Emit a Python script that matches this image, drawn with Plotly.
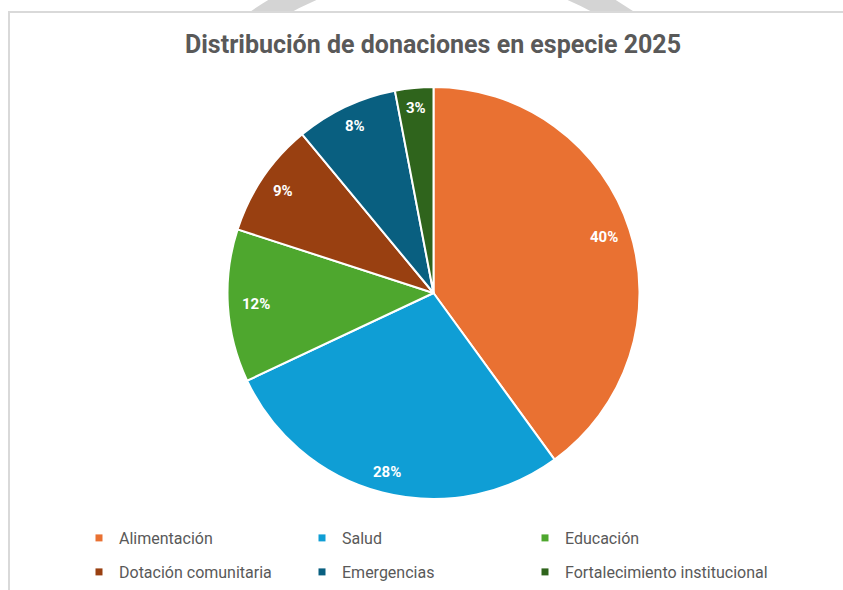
import math
import plotly.graph_objects as go

# data
categories = ['Alimentación', 'Salud', 'Educación',
              'Dotación comunitaria', 'Emergencias', 'Fortalecimiento institucional']
shares = [40, 28, 12, 9, 8, 3]
colors = ['#E97132', '#0F9ED5', '#4EA72E', '#994011', '#095F80', '#2F641C']

W, H = 843, 590


def px_x(v):
    return v / W


def px_y(v):
    return 1 - v / H


CX, CY, R = 433.5, 293, 206

fig = go.Figure()

fig.add_trace(go.Pie(
    labels=categories,
    values=shares,
    sort=False,
    direction='clockwise',
    rotation=0,
    marker=dict(colors=colors, line=dict(color='white', width=2)),
    textinfo='none',
    domain=dict(x=[px_x(CX - R), px_x(CX + R)], y=[px_y(CY + R), px_y(CY - R)]),
    showlegend=False,
    hoverinfo='label+percent',
))

# percentage labels near the outer edge of each slice
total = sum(shares)
annotations = []
cum = 0
for v in shares:
    ang = 2 * math.pi * (cum + v / 2) / total
    cum += v
    rr = R * (0.86 + 0.04 * abs(math.cos(ang)))
    annotations.append(dict(
        x=px_x(CX + rr * math.sin(ang)), y=px_y(CY - rr * math.cos(ang)),
        xref='paper', yref='paper', xanchor='center', yanchor='middle',
        showarrow=False,
        text='<b>%d%%</b>' % round(100 * v / total),
        font=dict(family='Roboto', size=15, color='white'),
    ))

# legend: one small legend per entry, laid out 3 columns x 2 rows
col_x = [79, 302, 525]
row_y = [538, 572]
legends = {}
for i, (name, col) in enumerate(zip(categories, colors)):
    key = 'legend' if i == 0 else 'legend%d' % (i + 1)
    fig.add_trace(go.Scatter(
        x=[None], y=[None], mode='markers', name=name,
        marker=dict(symbol='square', size=7, color=col),
        legend=key,
    ))
    legends[key] = dict(
        orientation='h',
        xanchor='left', yanchor='middle',
        x=px_x(col_x[i % 3]), y=px_y(row_y[i // 3]),
        font=dict(family='Roboto', size=16, color='#595959'),
        bgcolor='rgba(0,0,0,0)',
        itemclick=False,
    )

fig.update_layout(
    width=W,
    height=H,
    margin=dict(l=0, r=0, t=0, b=0),
    paper_bgcolor='white',
    plot_bgcolor='rgba(0,0,0,0)',
    xaxis=dict(visible=False),
    yaxis=dict(visible=False),
    title=dict(
        text='<b>Distribución de donaciones en especie 2025</b>',
        x=px_x(433), xanchor='center',
        y=px_y(44), yanchor='middle',
        xref='paper', yref='paper',
        font=dict(family='Roboto', size=25, color='#595959'),
    ),
    annotations=annotations,
    shapes=[
        # grey ring peeking above the chart box
        dict(type='circle', xref='paper', yref='paper', layer='below',
             x0=px_x(442 - 327), x1=px_x(442 + 327),
             y0=px_y(290 + 327), y1=px_y(290 - 327),
             line=dict(color='#d4d4d4', width=22), fillcolor='rgba(0,0,0,0)'),
        # chart box
        dict(type='rect', xref='paper', yref='paper', layer='below',
             x0=px_x(9), x1=px_x(W + 20), y0=px_y(H + 20), y1=px_y(12),
             line=dict(color='#d9d9d9', width=2), fillcolor='white'),
    ],
    **legends,
)

fig.write_html('out.html', config={'displayModeBar': False},
               post_script="document.body.style.margin='0px';")
